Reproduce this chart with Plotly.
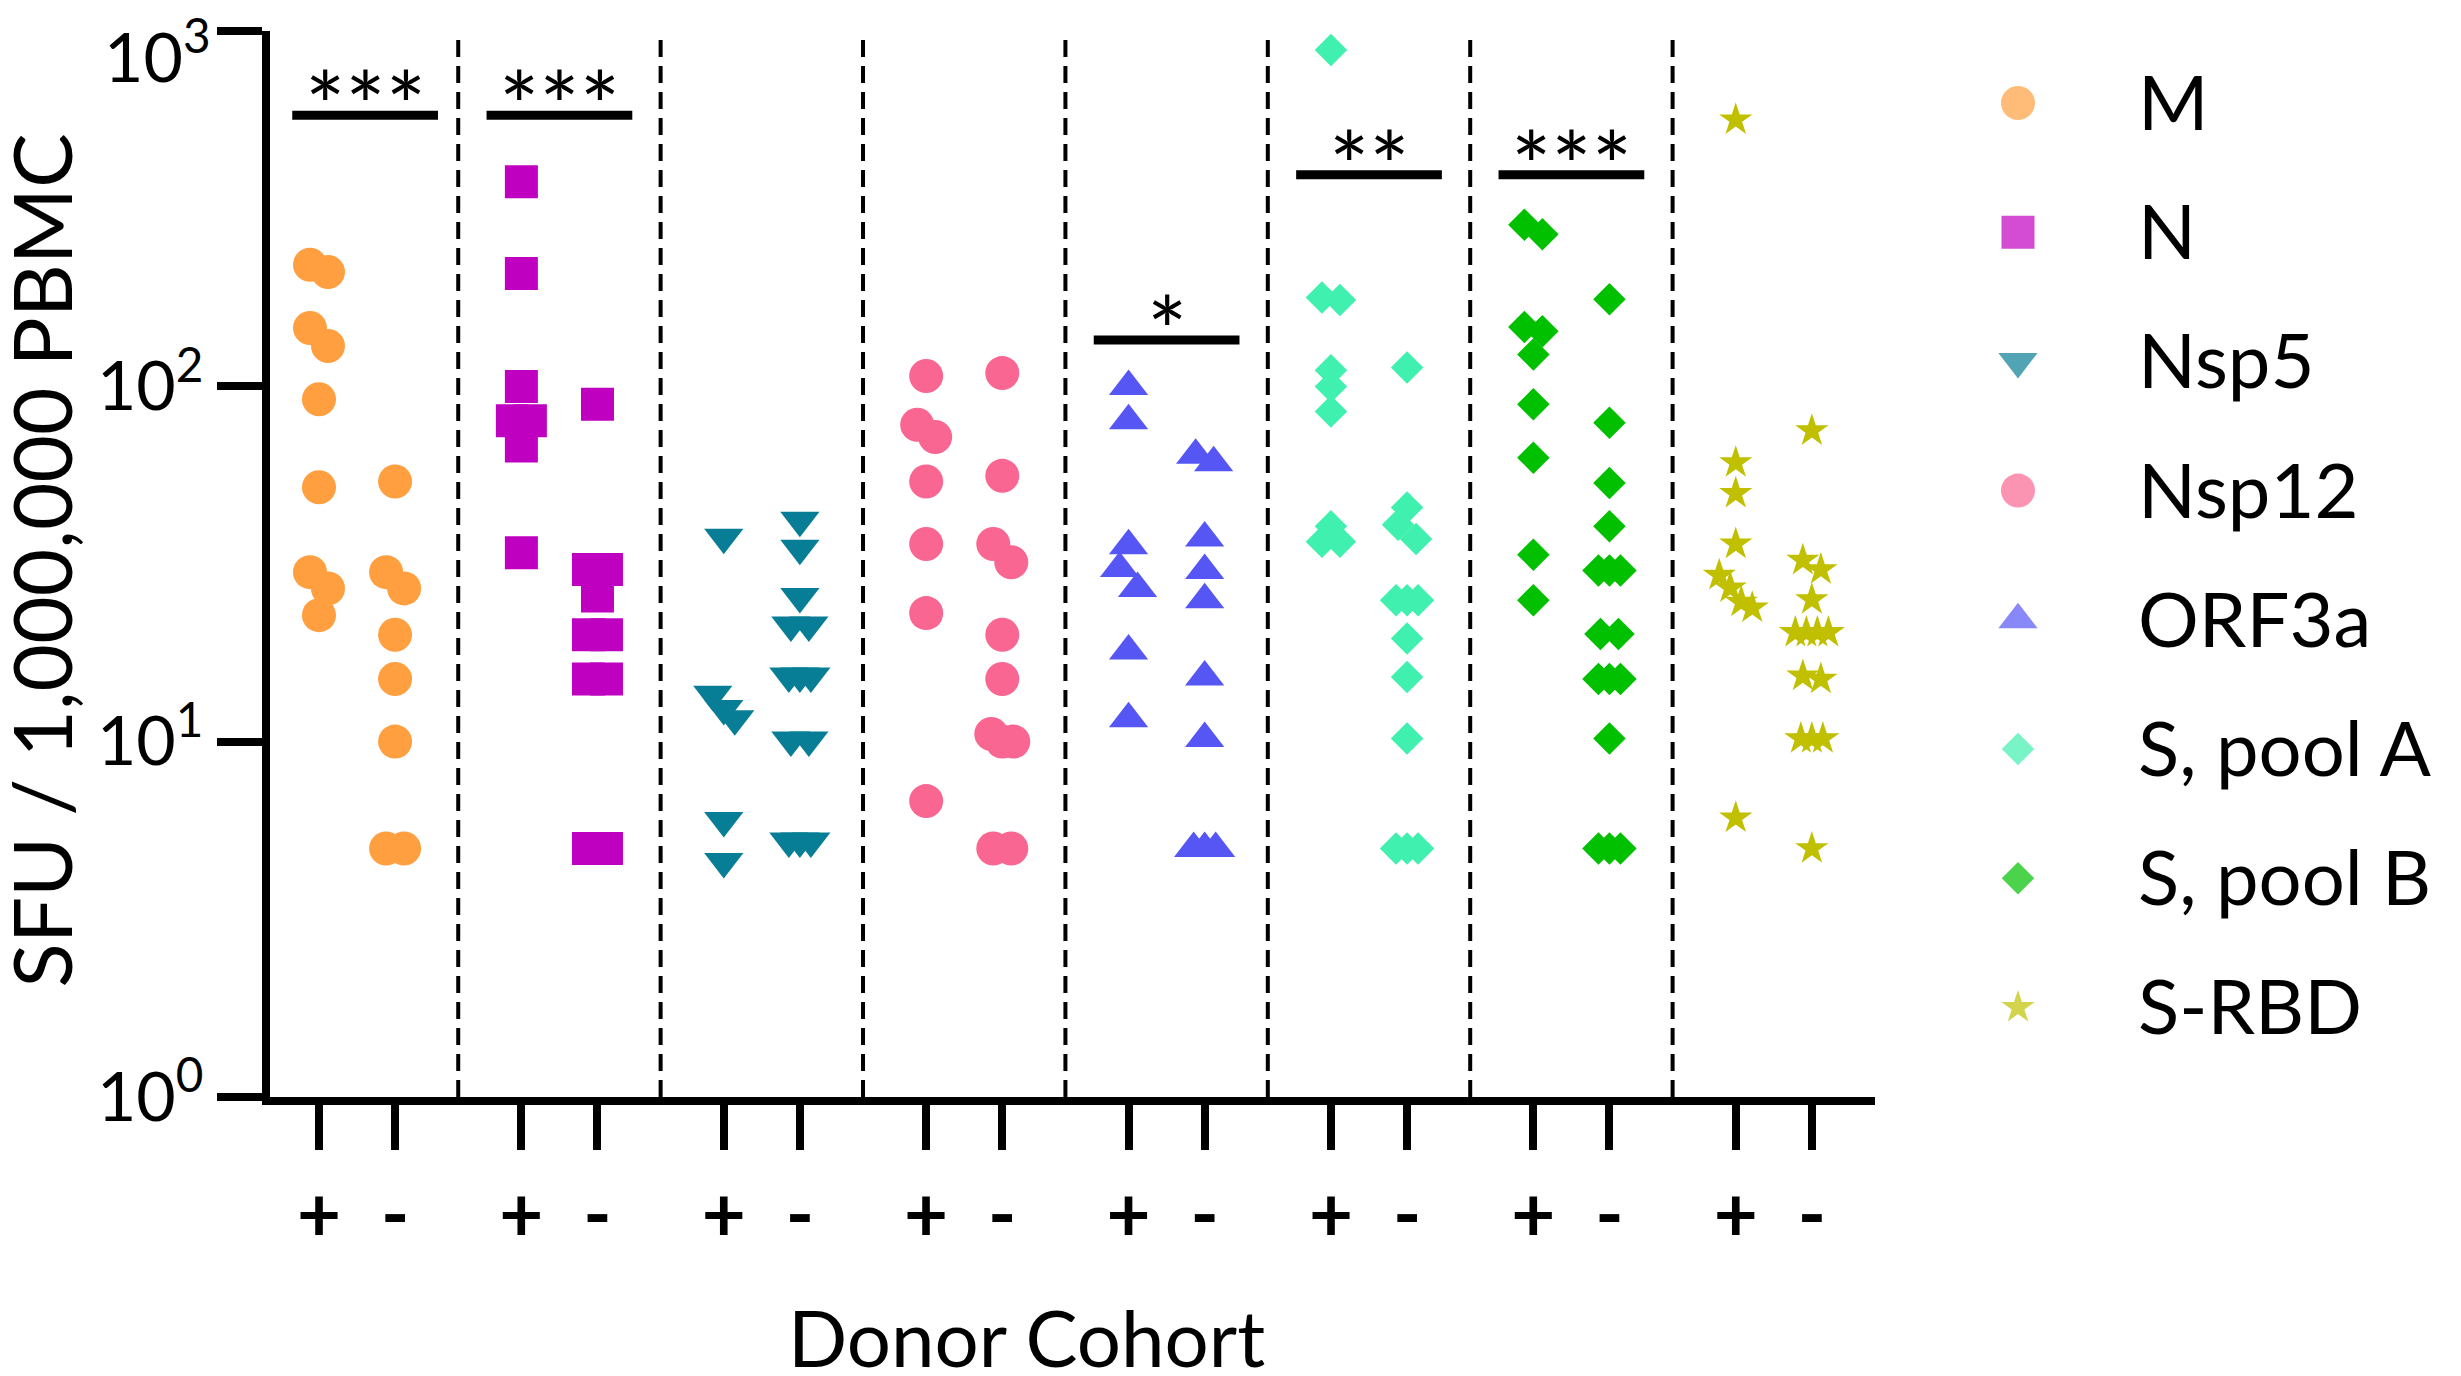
import numpy as np
import plotly.graph_objects as go

# antigen pools and marker look
antigens = ["M", "N", "Nsp5", "Nsp12", "ORF3a", "S, pool A", "S, pool B", "S-RBD"]
colors = ["#FF9F40", "#C000C0", "#087E96", "#FA6692", "#5656F5", "#3FF0AE", "#00C000", "#C0C000"]
symbols = ["circle", "square", "triangle-down", "circle", "triangle-up", "diamond", "diamond", "star"]
sizes = [34, 33, 34, 34, 34, 25, 25, 25]

cohort_labels = ["+", "-"]

# SFU / 1,000,000 PBMC, "+" donors then "-" donors
m_pos = [220, 210, 146, 130, 92, 52, 30, 27, 22.7]
m_neg = [54, 30, 27, 20, 15, 10, 5, 5]
n_pos = [377, 208, 100, 80, 80, 68, 34]
n_neg = [89, 30.5, 30.5, 25.7, 20, 20, 15, 15, 5, 5]
nsp5_pos = [37.6, 13.6, 12.4, 11.6, 6.0, 4.6]
nsp5_neg = [42, 35, 25.6, 21.3, 21.3, 15.3, 15.3, 15.3, 10.1, 10.1, 5.25, 5.25, 5.25]
nsp12_pos = [107, 78, 72, 54, 36, 23, 6.8]
nsp12_neg = [109, 56, 36, 32, 20, 15, 10.5, 10, 10, 5, 5]
orf3a_pos = [100, 80, 35.6, 30.7, 27, 18, 11.6]
orf3a_neg = [64, 61, 37.4, 30.3, 25.1, 15.2, 10.2, 5, 5, 5]
spa_pos = [885, 178, 175, 111, 100, 85, 40.4, 36.5, 36.5]
spa_neg = [113, 45.6, 40.8, 37.2, 25, 25, 25, 19.5, 15.2, 10.2, 5, 5, 5]
spb_pos = [285, 268, 147, 143, 123, 89, 63, 33.6, 25]
spb_neg = [176, 79, 53.5, 40.4, 30.3, 30.3, 30.3, 20.1, 20.1, 15, 15, 15, 10.2, 5, 5, 5]
rbd_pos = [563, 61, 50, 36, 29.4, 27.1, 24.7, 23.8, 6.1]
rbd_neg = [75, 32.4, 30.5, 25.1, 20.3, 20.3, 20.3, 20.3, 15.3, 15, 10.2, 10.2, 10.2, 5]

pos_values = [m_pos, n_pos, nsp5_pos, nsp12_pos, orf3a_pos, spa_pos, spb_pos, rbd_pos]
neg_values = [m_neg, n_neg, nsp5_neg, nsp12_neg, orf3a_neg, spa_neg, spb_neg, rbd_neg]

# significance brackets
sig_groups = [0, 1, 4, 5, 6]
sig_heights = [580, 580, 135, 394, 394]
sig_labels = ["***", "***", "*", "**", "***"]
sig_shift = [0.04, 0, 0, 0, 0]   # the first bracket sits a little right of centre

y_ticks = [1, 10, 100, 1000]
y_ticktext = ["10<sup>0</sup>", "10<sup>1</sup>", "10<sup>2</sup>", "10<sup>3</sup>"]

PX_X = 202.4     # pixels per group on x
PX_DEC = 355.3   # pixels per decade on y
COL_OFF = 0.188  # +/- column offset within a group

# page has an 8px body margin, so the figure is drawn 8px in from the corner
W, H = 2445, 1360
ML, MT = 262, 23
PLOT_W = W - ML
MAIN_END = 1605 / PLOT_W


def spread(values, diam):
    # GraphPad-like spreading of points that overlap vertically
    v = np.array(values, float)
    order = np.argsort(-v)
    ypix = np.log10(v[order]) * PX_DEC
    offs = np.zeros(len(v))
    clusters, cur = [], [0]
    for k in range(1, len(order)):
        if ypix[k - 1] - ypix[k] < 0.6 * diam:
            cur.append(k)
        else:
            clusters.append(cur)
            cur = [k]
    clusters.append(cur)
    for c in clusters:
        n = len(c)
        step = 18 if n == 2 else 11
        for j, k in enumerate(c):
            offs[order[k]] = (j - (n - 1) / 2) * step / PX_X
    return offs


fig = go.Figure()

for i, name in enumerate(antigens):
    xs, ys = [], []
    for vals, side in [(pos_values[i], -COL_OFF), (neg_values[i], COL_OFF)]:
        offs = spread(vals, sizes[i])
        xs += list(i + side + offs)
        ys += list(vals)
    fig.add_trace(go.Scatter(
        x=xs, y=ys, mode="markers", name=name, showlegend=False,
        marker=dict(symbol=symbols[i], size=sizes[i], color=colors[i], line=dict(width=0)),
        cliponaxis=False,
    ))

annotations = []
for g, h, lab, sh in zip(sig_groups, sig_heights, sig_labels, sig_shift):
    fig.add_trace(go.Scatter(
        x=[g + sh - 0.36, g + sh + 0.36], y=[h, h], mode="lines", showlegend=False,
        line=dict(color="black", width=9),
    ))
    annotations.append(dict(
        x=g + sh, y=np.log10(h), xref="x", yref="y", text=lab, showarrow=False,
        xanchor="center", yanchor="middle", yshift=11,
        font=dict(family="Lato", size=95, color="black"),
    ))

# dashed dividers between antigen groups
for k in range(len(antigens) - 1):
    fig.add_shape(type="line", xref="x", yref="paper", x0=k + 0.5, x1=k + 0.5, y0=0, y1=1,
                  line=dict(color="black", width=4, dash="17px,9px"), layer="below")

# hand-built legend on a hidden second axis (page pixel coordinates)
leg_y = [103 + 129.2 * i for i in range(len(antigens))]
x2_lo = 8 + ML + 0.75 * PLOT_W
fig.add_trace(go.Scatter(
    x=[2018] * len(antigens), y=leg_y, mode="markers", xaxis="x2", yaxis="y2",
    marker=dict(symbol=symbols, size=sizes, color=colors, line=dict(width=0)),
    showlegend=False, cliponaxis=False,
))
fig.add_trace(go.Scatter(
    x=[2138] * len(antigens), y=[v + 8 for v in leg_y], mode="text", text=antigens,
    textposition="middle right", xaxis="x2", yaxis="y2",
    textfont=dict(family="Lato", size=76, color="black"),
    showlegend=False, cliponaxis=False,
))

tick_x = []
tick_t = []
for i in range(len(antigens)):
    tick_x += [i - COL_OFF, i + COL_OFF]
    tick_t += cohort_labels

annotations += [
    # top tick label is nudged down so it stays on the page, as in the original
    dict(text=y_ticktext[-1], xref="paper", yref="paper", x=(213 - 270) / PLOT_W,
         y=(1097 - 4) / 1066, xanchor="right", yanchor="top", showarrow=False,
         font=dict(family="Lato", size=68, color="black")),
    dict(text="SFU / 1,000,000 PBMC", xref="paper", yref="paper", x=(40 - 270) / PLOT_W, y=0.503,
         textangle=-90, showarrow=False, font=dict(family="Lato", size=82, color="black"),
         xanchor="center", yanchor="middle"),
    dict(text="Donor Cohort", xref="paper", yref="paper", x=(1026 - 270) / PLOT_W,
         y=(1097 - 1337) / 1066, showarrow=False, font=dict(family="Lato", size=78, color="black"),
         xanchor="center", yanchor="middle"),
]

fig.update_layout(
    width=W, height=H,
    margin=dict(l=ML, r=0, t=MT, b=H - MT - 1066, autoexpand=False),
    plot_bgcolor="white", paper_bgcolor="white",
    font=dict(family="Lato", color="black"),
    showlegend=False,
    xaxis=dict(
        domain=[0, MAIN_END], range=[-0.43, 7.5], automargin=False,
        showline=True, linewidth=8, linecolor="black",
        ticks="outside", ticklen=45, tickwidth=8, tickcolor="black",
        tickvals=tick_x, ticktext=tick_t,
        tickfont=dict(family="Lato", size=76, weight="bold"),
        showgrid=False, zeroline=False,
    ),
    yaxis=dict(
        type="log", range=[-0.0005, 3.0005], automargin=False,
        showline=True, linewidth=8, linecolor="black",
        ticks="outside", ticklen=45, tickwidth=8, tickcolor="black",
        tickvals=y_ticks, ticktext=y_ticktext[:-1] + [""],
        tickfont=dict(family="Lato", size=68),
        showgrid=False, zeroline=False,
    ),
    xaxis2=dict(domain=[0.75, 1], range=[x2_lo, 8 + W], anchor="y2", visible=False),
    yaxis2=dict(domain=[0, 1], range=[1097, 31], anchor="x2", visible=False),
    annotations=annotations,
)

fig.write_html("out.html")
